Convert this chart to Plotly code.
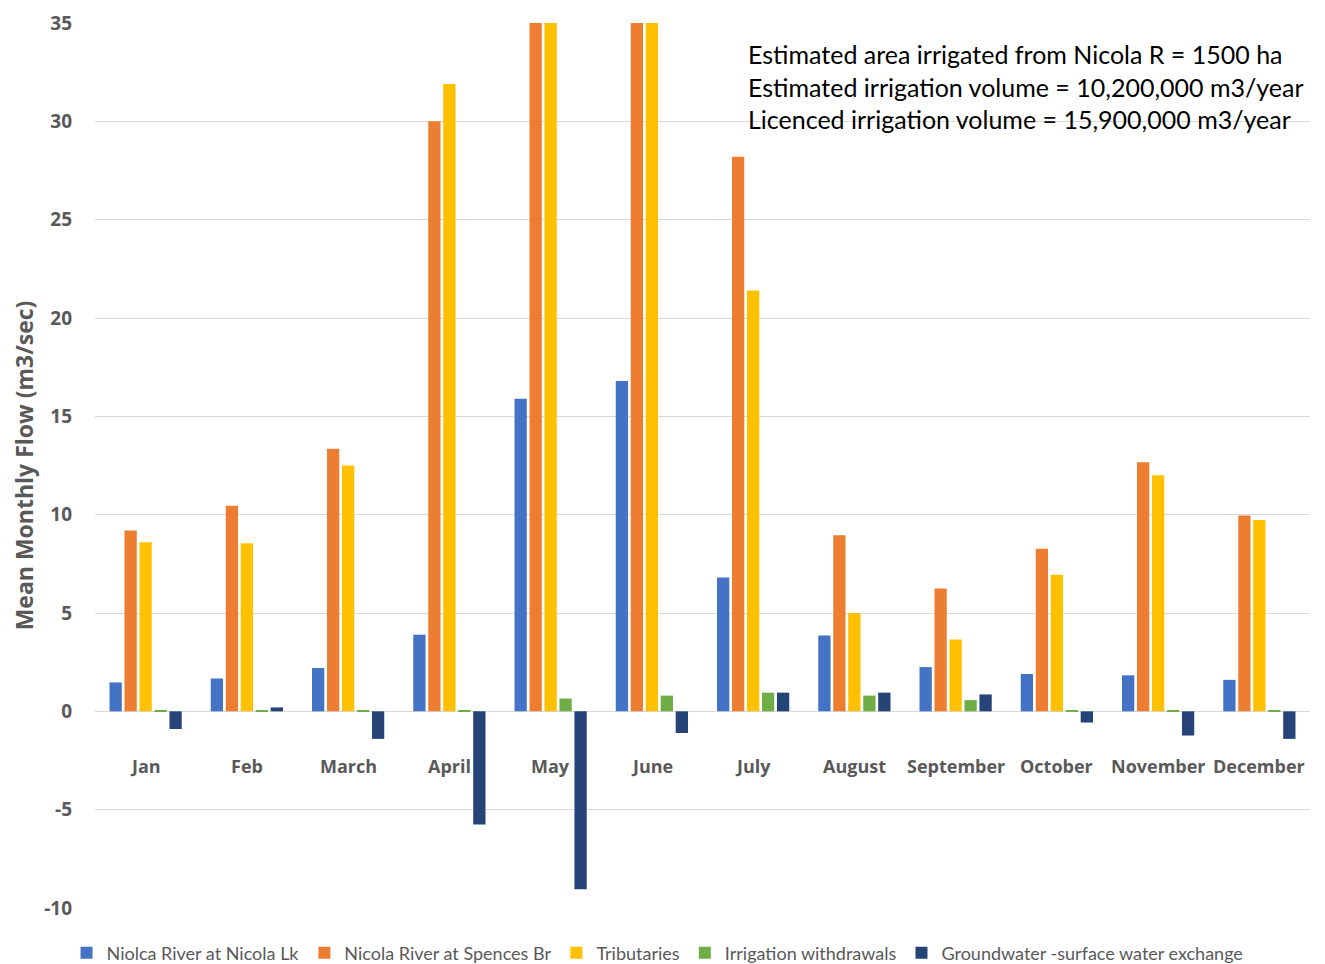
import plotly.graph_objects as go

months = ["Jan", "Feb", "March", "April", "May", "June", "July", "August",
          "September", "October", "November", "December"]
nicola_lk = [1.47, 1.67, 2.2, 3.9, 15.9, 16.8, 6.8, 3.85, 2.25, 1.9, 1.83, 1.6]
spences_br = [9.2, 10.45, 13.35, 30.0, 48.0, 40.0, 28.2, 8.95, 6.25, 8.27, 12.67, 9.96]
tributaries = [8.6, 8.55, 12.5, 31.9, 45.0, 38.0, 21.4, 5.0, 3.65, 6.95, 12.0, 9.73]
irrigation = [0.03, 0.03, 0.03, 0.03, 0.65, 0.8, 0.95, 0.8, 0.57, 0.03, 0.03, 0.03]
groundwater = [-0.9, 0.2, -1.4, -5.75, -9.05, -1.1, 0.95, 0.95, 0.86, -0.57, -1.23, -1.4]

y_ticks = [-10, -5, 0, 5, 10, 15, 20, 25, 30, 35]
y_tick_labels = ["-10", "-5", "0", "5", "10", "15", "20", "25", "30", "35"]

series = [
    ("Niolca River at Nicola Lk", nicola_lk, "#4472C4"),
    ("Nicola River at Spences Br", spences_br, "#ED7D31"),
    ("Tributaries", tributaries, "#FFC000"),
    ("Irrigation withdrawals", irrigation, "#70AD47"),
    ("Groundwater -surface water exchange", groundwater, "#264478"),
]

notes = ["Estimated area irrigated from Nicola R = 1500 ha",
         "Estimated irrigation volume = 10,200,000 m3/year",
         "Licenced irrigation volume = 15,900,000 m3/year"]

fig = go.Figure()
for name, vals, col in series:
    fig.add_trace(go.Bar(x=months, y=vals, name=name, marker_color=col,
                         marker_line_width=0))

gray = "#595959"
reg_font = "Lato"
bold_font = "Open Sans"

annotations = []
for m in months:
    annotations.append(dict(x=m, y=-2.8, xref="x", yref="y", text="<b>%s</b>" % m,
                            showarrow=False, font=dict(size=18, color=gray, family=bold_font)))
annotations.append(dict(x=0.536, y=0.984, xref="paper", yref="paper", xanchor="left", yanchor="top",
                        align="left", showarrow=False,
                        text="<br>".join(notes),
                        font=dict(size=25, color="#000000", family=reg_font)))

fig.update_layout(
    width=1325, height=964,
    margin=dict(l=87, r=23, t=15, b=64, autoexpand=False),
    paper_bgcolor="white", plot_bgcolor="white",
    barmode="group", bargap=0.26, bargroupgap=0.18,
    font=dict(family=reg_font, color=gray),
    showlegend=True,
    legend=dict(orientation="h", x=0.463, xanchor="center", y=-0.03, yanchor="top",
                font=dict(size=18, color=gray, family=reg_font), itemwidth=30, tracegroupgap=0),
    annotations=annotations,
    xaxis=dict(showticklabels=False, showgrid=False, zeroline=False, showline=False),
    yaxis=dict(range=[-10, 35], tickvals=y_ticks, ticktext=["<b>%s</b>" % t for t in y_tick_labels],
               showgrid=True, gridcolor="#D9D9D9", gridwidth=1,
               zeroline=True, zerolinecolor="#D9D9D9", zerolinewidth=1,
               tickfont=dict(size=19, color=gray, family=bold_font), ticks="",
               ticklabelstandoff=22, automargin=False,
               title=dict(text="<b>Mean Monthly Flow (m3/sec)</b>",
                          font=dict(size=23, color=gray, family=bold_font), standoff=26)),
)

fig.write_html("out.html")
